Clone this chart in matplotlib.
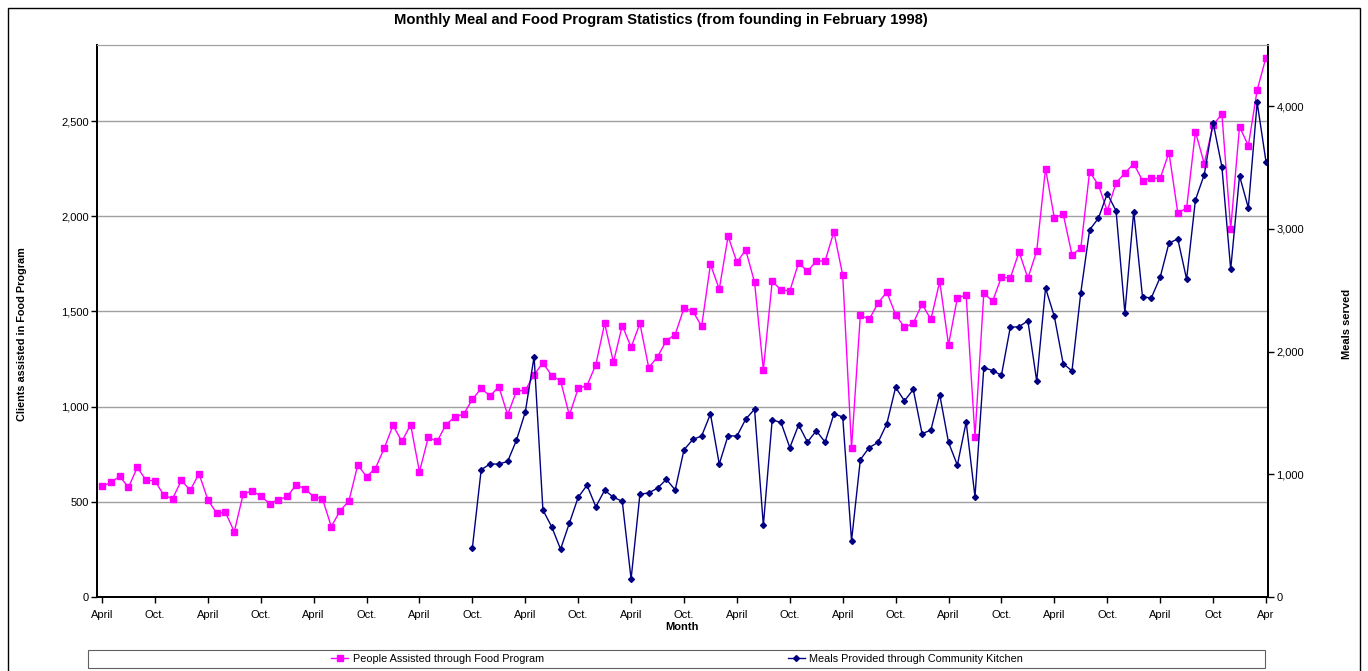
import matplotlib.pyplot as plt
import numpy as np
from matplotlib.ticker import FuncFormatter
from matplotlib.patches import Rectangle

plt.rcParams['font.family'] = ['Liberation Sans', 'DejaVu Sans']

# people assisted through the food program, one value per month (April .. Apr)
people = [581, 602, 634, 576, 681, 613, 611, 535, 516, 613, 560, 648,
          511, 440, 444, 343, 539, 558, 530, 491, 511, 528, 588, 570,
          526, 516, 370, 453, 505, 693, 633, 675, 781, 902, 817, 905,
          658, 839, 817, 905, 946, 960, 1038, 1096, 1056, 1105, 957, 1082,
          1086, 1168, 1230, 1163, 1136, 955, 1096, 1111, 1220, 1437, 1234, 1426,
          1312, 1437, 1205, 1262, 1347, 1379, 1518, 1502, 1422, 1748, 1617, 1895,
          1759, 1823, 1654, 1193, 1658, 1614, 1608, 1756, 1711, 1765, 1765, 1919,
          1690, 783, 1481, 1458, 1544, 1602, 1484, 1416, 1439, 1539, 1458, 1658,
          1325, 1572, 1585, 842, 1596, 1554, 1681, 1675, 1813, 1675, 1817, 2251,
          1991, 2013, 1798, 1832, 2235, 2164, 2028, 2176, 2227, 2277, 2187, 2201,
          2199, 2335, 2018, 2043, 2444, 2277, 2479, 2538, 1934, 2471, 2371, 2663,
          2834]

# meals from the community kitchen, starts in the Oct. of month 42
meals_start = 42
meals = [400, 1038, 1084, 1084, 1105, 1278, 1507, 1960, 709, 572, 390, 602,
         813, 911, 736, 870, 813, 780, 146, 837, 849, 887, 959, 873,
         1200, 1284, 1313, 1492, 1084, 1316, 1311, 1450, 1531, 584, 1444, 1423,
         1218, 1403, 1263, 1355, 1263, 1492, 1468, 459, 1120, 1218, 1260, 1412,
         1709, 1599, 1692, 1331, 1361, 1650, 1260, 1075, 1426, 816, 1870, 1846,
         1808, 2198, 2204, 2251, 1760, 2519, 2287, 1903, 1843, 2481, 2993, 3088,
         3288, 3148, 2317, 3142, 2445, 2439, 2606, 2886, 2918, 2591, 3237, 3443,
         3868, 3508, 2671, 3434, 3172, 4032, 3550]

month_labels = ['April', 'Oct.'] * 10 + ['April', 'Oct', 'Apr']

W, H = 1368, 671
fig = plt.figure(figsize=(W / 100, H / 100), dpi=100)
ax = fig.add_axes([97 / W, 1 - 597 / H, (1268 - 97) / W, (597 - 45) / H])

x = np.arange(len(people))
xm = np.arange(meals_start, meals_start + len(meals))

l1, = ax.plot(x, people, color='#FF00FF', marker='s', markersize=4.5,
              linewidth=1, label='People Assisted through Food Program')
ax2 = ax.twinx()
l2, = ax2.plot(xm, meals, color='#000080', marker='D', markersize=3,
               linewidth=1, label='Meals Provided through Community Kitchen')

ax.set_xlim(-0.57, 132.23)
ax.set_ylim(0, 2900)
ax2.set_ylim(0, 4500)
ax.set_yticks(range(0, 2501, 500))
ax2.set_yticks(range(0, 4001, 1000))
fmt = FuncFormatter(lambda v, p: '{:,.0f}'.format(v))
ax.yaxis.set_major_formatter(fmt)
ax2.yaxis.set_major_formatter(fmt)
ax.set_xticks(np.arange(0, len(people), 6))
ax.set_xticklabels(month_labels)

ax.yaxis.grid(True, color='#a0a0a0', linewidth=1)
ax.set_axisbelow(True)

for a in (ax, ax2):
    a.tick_params(direction='out', length=4, width=1, labelsize=8, pad=2)
    for s in ('left', 'right', 'bottom'):
        a.spines[s].set_linewidth(1.3)
    a.spines['top'].set_color('#a0a0a0')
ax.tick_params(axis='x', pad=5)

ax.set_xlabel('Month', fontsize=8, fontweight='bold', labelpad=2)

fig.text(661 / W, 1 - 20 / H,
         'Monthly Meal and Food Program Statistics (from founding in February 1998)',
         ha='center', va='center', fontsize=10.6, fontweight='bold')
fig.text(22 / W, 1 - 334 / H, 'Clients assisted in Food Program', rotation=90,
         ha='center', va='center', fontsize=7.8, fontweight='bold')
fig.text(1347 / W, 1 - 324 / H, 'Meals served', rotation=90,
         ha='center', va='center', fontsize=8, fontweight='bold')

# legend box along the bottom
fig.add_artist(Rectangle((88 / W, 1 - 668 / H), (1265 - 88) / W, 18 / H,
                         transform=fig.transFigure, fill=False,
                         edgecolor='#606060', linewidth=0.8))
fig.legend([l1, l2], [l1.get_label(), l2.get_label()], loc='center',
           bbox_to_anchor=(677 / W, 1 - 659 / H), ncol=2, frameon=False,
           fontsize=7.8, columnspacing=22.5, handlelength=1.6, handletextpad=0.4)

# outer chart border
fig.add_artist(Rectangle((8 / W, -0.05), (1360 - 8) / W, 1.05 - 8 / H,
                         transform=fig.transFigure, fill=False,
                         edgecolor='black', linewidth=1))

fig.savefig('out.png', dpi=100)
